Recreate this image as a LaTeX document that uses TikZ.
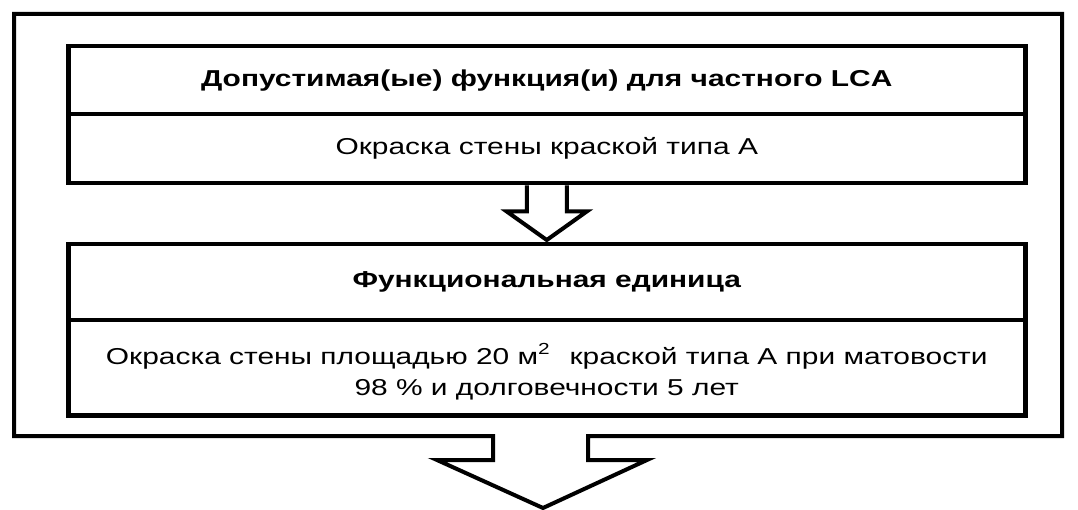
\documentclass[tikz,border=0pt]{standalone}
\usepackage{fontspec}
\setmainfont{Liberation Sans}[FakeStretch=1.3]
\usetikzlibrary{calc}
\begin{document}
\begin{tikzpicture}[x=1pt,y=-1pt,
  line join=miter,
  frame/.style={draw=black,line width=4pt},
  boxpart/.style={draw=black,line width=4.5pt,minimum width=957pt,anchor=north west,inner sep=0pt,align=center,font=\fontsize{23}{31}\selectfont},
  arrowline/.style={draw=black,line width=4pt,line join=miter},
]
\useasboundingbox (0,0) rectangle (1078,510);
% outer frame with bottom arrow
\coordinate (fbl) at (14,436);
\coordinate (ftl) at (14,14);
\coordinate (ftr) at (1062,14);
\coordinate (fbr) at (1062,436);
\coordinate (sl) at (493,436);
\coordinate (sr) at (588,436);
\coordinate (shl) at (493,460);
\coordinate (shr) at (588,460);
\coordinate (hl) at (437,460);
\coordinate (hr) at (647,460);
\coordinate (tip2) at (543,508);
\draw[frame] (sl) -- (fbl) -- (ftl) -- (ftr) -- (fbr) -- (sr) -- (shr) -- (hr) -- (tip2) -- (hl) -- (shl) -- cycle;
% boxes
\node[boxpart,minimum height=68pt,font=\fontsize{23}{31}\selectfont\bfseries] (h1) at (66,44) {Допустимая(ые) функция(и) для частного LCA};
\node[boxpart,minimum height=69pt] (b1) at (66,112) {Окраска стены краской типа А};
\node[boxpart,minimum height=76pt,font=\fontsize{23}{31}\selectfont\bfseries] (h2) at (66,242) {Функциональная единица};
\node[boxpart,minimum height=95pt] (b2) at (66,318) {};
\node[align=center,inner sep=0pt,font=\fontsize{23}{31}\selectfont] (t2) at ($(b2.center)+(0,4)$) {Окраска стены площадью 20 м\raisebox{10pt}{\fontsize{16}{16}\selectfont 2}\hspace{0.5em} краской типа А при матовости\\98 \% и долговечности 5 лет};
% arrow between boxes
\draw[arrowline] ($(b1.south)+(-20,0)$) -- ++(0,26) -- ++(-20,0) -- ($(h2.north)+(0,-2)$) -- ($(b1.south)+(40,26)$) -- ++(-20,0) -- ($(b1.south)+(20,0)$);
\end{tikzpicture}
\end{document}
